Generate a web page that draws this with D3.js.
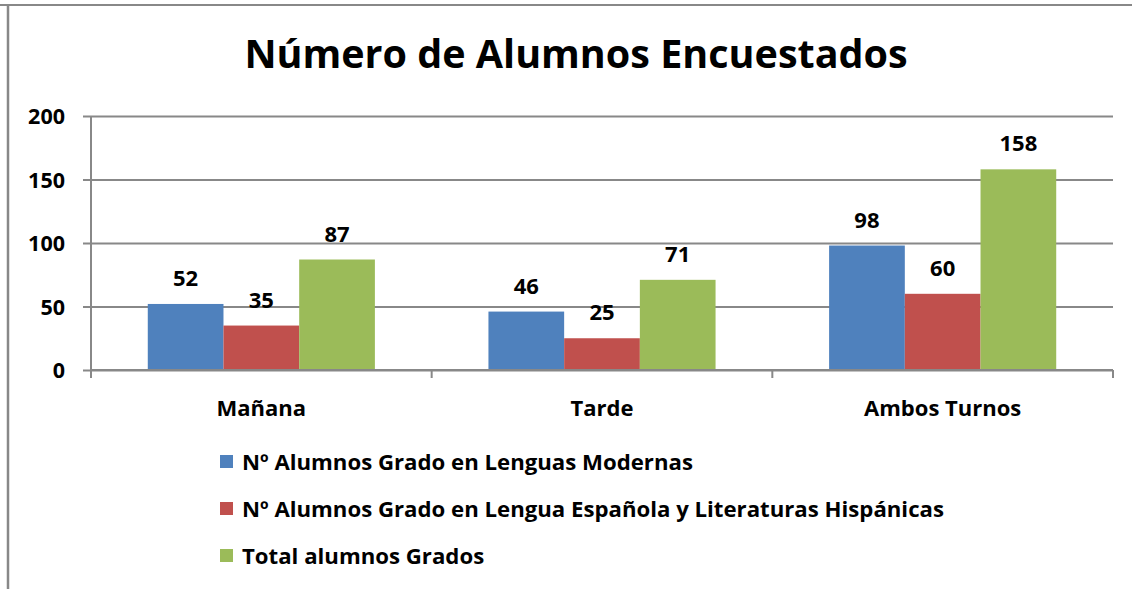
<!DOCTYPE html>
<html>
<head>
<meta charset="utf-8">
<script src="https://cdn.jsdelivr.net/npm/d3@7"></script>
<style>
  body { margin: 0; background: #fff; }
  text { font-family: 'Open Sans', sans-serif; font-weight: bold; fill: #000; }
</style>
</head>
<body>
<div id="main"></div>
<script>
const categories = ['Mañana', 'Tarde', 'Ambos Turnos'];
const seriesNames = [
  'Nº Alumnos Grado en Lenguas Modernas',
  'Nº Alumnos Grado en Lengua Española y Literaturas Hispánicas',
  'Total alumnos Grados',
];
const modernas = [52, 46, 98];
const espanola = [35, 25, 60];
const total = [87, 71, 158];
const yTicks = [0, 50, 100, 150, 200];
const colors = ['#4f81bd', '#c0504d', '#9bbb59'];

const series = [modernas, espanola, total];

const width = 1132;
const height = 589;
const margin = { top: 116, right: 19, bottom: 219, left: 91 };

const svg = d3.select('#main')
  .append('svg')
  .attr('width', width)
  .attr('height', height);

// frame (only top and left edges visible)
svg.append('line')
  .attr('x1', 0).attr('x2', width)
  .attr('y1', 5).attr('y2', 5)
  .attr('stroke', '#888').attr('stroke-width', 2);
svg.append('line')
  .attr('x1', 8).attr('x2', 8)
  .attr('y1', 4).attr('y2', height)
  .attr('stroke', '#888').attr('stroke-width', 2.5);

svg.append('text')
  .attr('x', 576)
  .attr('y', 68)
  .attr('text-anchor', 'middle')
  .style('font-size', '39.5px')
  .text('Número de Alumnos Encuestados');

const x0 = d3.scaleBand()
  .domain(categories)
  .range([margin.left, width - margin.right])
  .paddingInner(0)
  .paddingOuter(0);

// gap width 150% -> 0.75 of a bar on each side
const x1 = d3.scaleBand()
  .domain(d3.range(series.length))
  .range([0, x0.bandwidth()])
  .paddingOuter(0.75)
  .paddingInner(0);

const y = d3.scaleLinear()
  .domain([0, 200])
  .range([height - margin.bottom, margin.top]);

// gridlines + y axis
const yAxis = svg.append('g')
  .attr('transform', `translate(${margin.left},0)`)
  .call(d3.axisLeft(y).tickValues(yTicks).tickSize(8).tickPadding(18));
yAxis.select('.domain').remove();
yAxis.selectAll('line')
  .attr('x2', width - margin.right - margin.left)
  .attr('x1', -8)
  .attr('stroke', '#888')
  .attr('stroke-width', 2);
yAxis.selectAll('text')
  .style('font-size', '21.5px')
  .attr('dy', '0.36em');

svg.append('line')
  .attr('x1', margin.left).attr('x2', margin.left)
  .attr('y1', margin.top).attr('y2', y(0) + 8)
  .attr('stroke', '#888').attr('stroke-width', 2);

// bars
categories.forEach((c, ci) => {
  const g = svg.append('g').attr('transform', `translate(${x0(c)},0)`);
  g.selectAll('rect')
    .data(series.map((s, si) => ({ si, v: s[ci] })))
    .join('rect')
    .attr('x', (d) => x1(d.si))
    .attr('width', x1.bandwidth())
    .attr('y', (d) => y(d.v))
    .attr('height', (d) => y(0) - y(d.v))
    .attr('fill', (d) => colors[d.si]);
  g.selectAll('text')
    .data(series.map((s, si) => ({ si, v: s[ci] })))
    .join('text')
    .attr('x', (d) => x1(d.si) + x1.bandwidth() / 2)
    .attr('y', (d) => y(d.v) - 18)
    .attr('text-anchor', 'middle')
    .style('font-size', '22px')
    .text((d) => d.v);
});

// x axis
const xAxis = svg.append('g')
  .attr('transform', `translate(0,${y(0)})`)
  .call(d3.axisBottom(x0).tickSize(0).tickPadding(30));
xAxis.select('.domain')
  .attr('d', `M${margin.left},0H${width - margin.right}`)
  .attr('stroke', '#888').attr('stroke-width', 2);
xAxis.selectAll('text')
  .style('font-size', '22px');
const bounds = categories.map((c) => x0(c)).concat([x0(categories[categories.length - 1]) + x0.bandwidth()]);
xAxis.selectAll('.bound')
  .data(bounds)
  .join('line')
  .attr('class', 'bound')
  .attr('x1', (d) => d).attr('x2', (d) => d)
  .attr('y1', 0).attr('y2', 8)
  .attr('stroke', '#888').attr('stroke-width', 2);

// legend
const legend = svg.append('g').attr('transform', 'translate(220,462)');
const items = legend.selectAll('g')
  .data(seriesNames)
  .join('g')
  .attr('transform', (d, i) => `translate(0,${i * 47})`);
items.append('rect')
  .attr('x', 0).attr('y', -7)
  .attr('width', 13).attr('height', 13)
  .attr('fill', (d, i) => colors[i]);
items.append('text')
  .attr('x', 22)
  .attr('y', 0)
  .attr('dy', '0.35em')
  .style('font-size', '22.2px')
  .text((d) => d);
</script>
</body>
</html>
